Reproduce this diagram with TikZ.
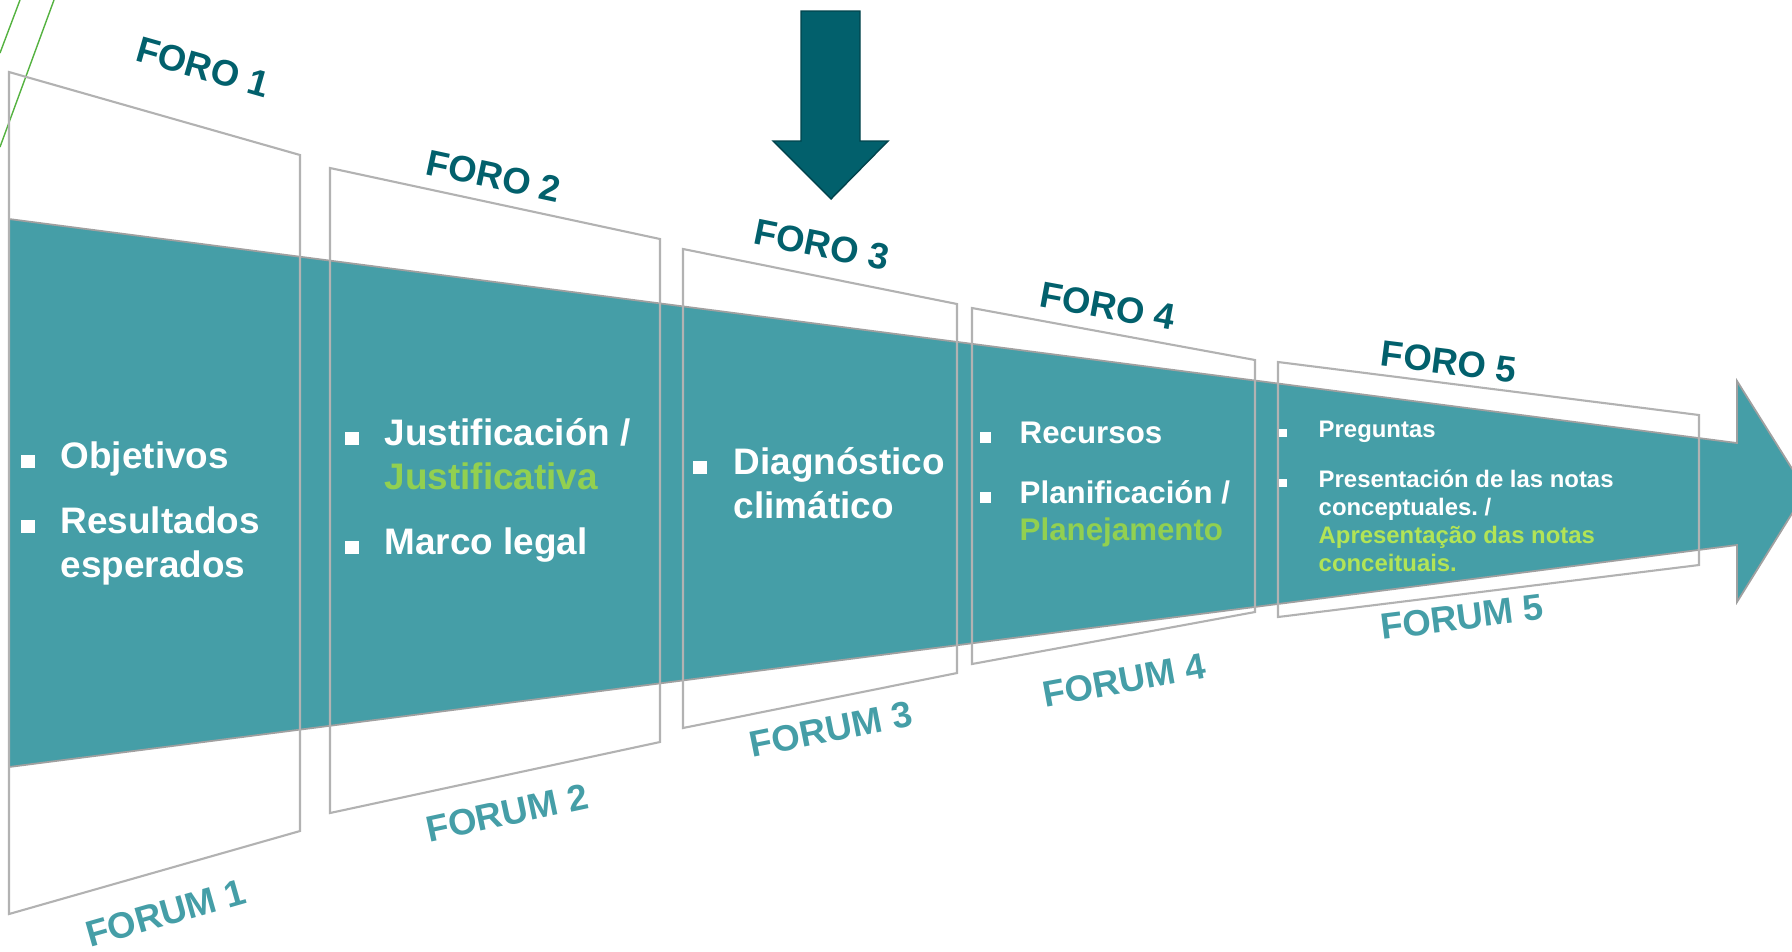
\documentclass[tikz,border=0pt]{standalone}
\usepackage{fontspec}
\setmainfont{Liberation Sans}
\frenchspacing

\tikzset{
  frameline/.style={draw=framegray,line width=0.6pt},
  forolabel/.style={text=forodark,inner sep=0pt,font=\fontsize{10.4}{12}\bfseries\selectfont},
  forumlabel/.style={text=flow,inner sep=0pt,font=\fontsize{10.4}{12}\bfseries\selectfont},
  itembig/.style={anchor=base west,inner sep=0pt,text=white,font=\fontsize{10.5}{12}\bfseries\selectfont},
  itemmid/.style={itembig,font=\fontsize{8.9}{10}\bfseries\selectfont},
  itemsmall/.style={itembig,font=\fontsize{6.8}{8}\bfseries\selectfont}
}

% square bullet: x, baseline y, size
\newcommand{\sqbullet}[3]{\fill[white] (#1,#2) rectangle ++(#3,-#3);}

\begin{document}
\begin{tikzpicture}[x=0.1mm,y=-0.1mm]

  \definecolor{flow}{RGB}{69,158,167} % teal
  \definecolor{forodark}{RGB}{2,96,108} % dark teal
  \definecolor{framegray}{RGB}{178,178,178} % grey
  \definecolor{arrowgray}{RGB}{160,160,160}
  \definecolor{verde}{RGB}{146,208,80} % green
  \definecolor{verdeclaro}{RGB}{178,228,86} % light green
  \definecolor{linea}{RGB}{84,178,64}

  \useasboundingbox (0,0) rectangle (1792,951);

  % Corner lines
  \draw[linea,line width=0.4pt] (0,53) -- (20,0);
  \draw[linea,line width=0.4pt] (0,147) -- (54,0);

  % Draw the big arrow
  \draw[arrowgray,fill=flow,line width=0.5pt]
      (9,219) -- (1737,443) -- (1737,381) -- (1806,491)
      -- (1737,602) -- (1737,545) -- (9,767) -- cycle;

  % Draw the down arrow
  \draw[fill=forodark,draw=forodark!70!black,line width=0.4pt]
      (801,11) -- (860,11) -- (860,141) -- (888,141)
      -- (831,199) -- (773,141) -- (801,141) -- cycle;

  % Draw the frames: left x, right x, top left, top right, bottom right, bottom left
  \foreach \xl/\xr/\ya/\yb/\yc/\yd in {9/300/72/155/831/914,
      330/660/168/239/742/813, 683/957/249/304/673/728,
      972/1255/308/360/612/664, 1278/1699/362/415/565/617}
    \draw[frameline] (\xl,\ya) -- (\xr,\yb) -- (\xr,\yc) -- (\xl,\yd) -- cycle;

  % Top labels
  \node[forolabel,rotate=-15.9] (foro1) at (203,67) {FORO 1};
  \node[forolabel,rotate=-12.1] (foro2) at (494,176) {FORO 2};
  \node[forolabel,rotate=-11.4] (foro3) at (822,245) {FORO 3};
  \node[forolabel,rotate=-10.4] (foro4) at (1108,306) {FORO 4};
  \node[forolabel,rotate=-7.2] (foro5) at (1449,362) {FORO 5};

  % Bottom labels
  \node[forumlabel,rotate=15.9] (forum1) at (166,913) {FORUM 1};
  \node[forumlabel,rotate=12.1] (forum2) at (507,813) {FORUM 2};
  \node[forumlabel,rotate=11.4] (forum3) at (831,729) {FORUM 3};
  \node[forumlabel,rotate=10.4] (forum4) at (1124,680) {FORUM 4};
  \node[forumlabel,rotate=7.2] (forum5) at (1462,617) {FORUM 5};

  % Forum 1 items
  \sqbullet{21}{468}{13.5}
  \sqbullet{21}{533}{13.5}
  \node[itembig] (obj) at (60,468) {Objetivos};
  \node[itembig] (res) at (60,533) {Resultados};
  \node[itembig] (esp) at (60,577) {esperados};

  % Forum 2 items
  \sqbullet{345}{445}{13.5}
  \sqbullet{345}{554}{13.5}
  \node[itembig] (just) at (384,445) {Justificación /};
  \node[itembig,text=verde] (justpt) at (384,489) {Justificativa};
  \node[itembig] (marco) at (384,554) {Marco legal};

  % Forum 3 items
  \sqbullet{693}{474}{13.5}
  \node[itembig] (diag) at (733,474) {Diagnóstico};
  \node[itembig] (clim) at (733,518) {climático};

  % Forum 4 items
  \sqbullet{980}{443}{11}
  \sqbullet{980}{503}{11}
  \node[itemmid] (recur) at (1019,443) {Recursos};
  \node[itemmid] (plan) at (1019,503) {Planificación /};
  \node[itemmid,text=verde] (planpt) at (1019,540) {Planejamento};

  % Forum 5 items
  \sqbullet{1279}{437}{8}
  \sqbullet{1279}{487}{8}
  \node[itemsmall] (preg) at (1318,437) {Preguntas};
  \node[itemsmall] (pres) at (1318,487) {Presentación de las notas};
  \node[itemsmall] (conc) at (1318,515) {conceptuales. /};
  \node[itemsmall,text=verdeclaro] (apres) at (1318,543) {Apresentação das notas};
  \node[itemsmall,text=verdeclaro] (conci) at (1318,571) {conceituais.};

\end{tikzpicture}
\end{document}
